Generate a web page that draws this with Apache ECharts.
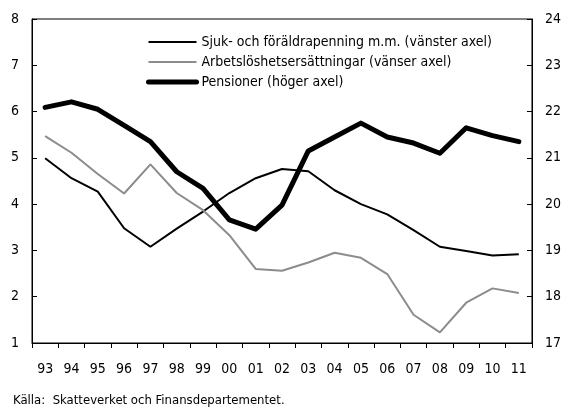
<!DOCTYPE html>
<html>
<head>
<meta charset="utf-8">
<script src="https://cdn.jsdelivr.net/npm/echarts@6/dist/echarts.min.js"></script>
<style>
  html, body { margin: 0; padding: 0; background: #fff; }
  #chart { width: 564px; height: 407px; }
</style>
</head>
<body>
<div id="chart"></div>
<script>
// data
const years = ['93','94','95','96','97','98','99','00','01','02','03','04','05','06','07','08','09','10','11'];
const sjuk = [4.99, 4.56, 4.27, 3.48, 3.08, 3.47, 3.84, 4.24, 4.56, 4.76, 4.71, 4.3, 4.0, 3.78, 3.44, 3.08, 2.99, 2.89, 2.92];
const arbets = [5.47, 5.11, 4.65, 4.23, 4.86, 4.24, 3.87, 3.33, 2.6, 2.56, 2.74, 2.95, 2.84, 2.49, 1.61, 1.23, 1.87, 2.18, 2.08];
const pension = [22.09, 22.21, 22.05, 21.7, 21.35, 20.7, 20.34, 19.66, 19.46, 19.98, 21.15, 21.45, 21.75, 21.45, 21.32, 21.1, 21.65, 21.48, 21.35];
const seriesNames = ['Sjuk- och föräldrapenning m.m. (vänster axel)', 'Arbetslöshetsersättningar (vänser axel)', 'Pensioner (höger axel)'];

const font = '"Liberation Sans Narrow", "DejaVu Sans Condensed", "DejaVu Sans", sans-serif';

const chart = echarts.init(document.getElementById('chart'));
chart.setOption({
    animation: false,
    textStyle: { fontFamily: font },
    grid: { left: 32, right: 27, top: 19, bottom: 64, show: true, borderColor: '#000', borderWidth: 1 },
    legend: {
        orient: 'vertical', left: 146, top: 35, padding: 0,
        itemWidth: 48, itemHeight: 14, itemGap: 6,
        itemStyle: { opacity: 0 },
        lineStyle: { width: 'inherit' },
        textStyle: { fontFamily: font, fontSize: 14, color: '#000' },
        data: seriesNames
    },
    graphic: [{
        type: 'text', left: 13, top: 394,
        style: { text: 'Källa:  Skatteverket och Finansdepartementet.', font: '13px ' + font, fill: '#000' }
    }],
    xAxis: {
        type: 'category', data: years, boundaryGap: true,
        axisLine: { lineStyle: { color: '#000', width: 1 } },
        axisTick: { show: true, length: 5, alignWithLabel: false, lineStyle: { color: '#000' } },
        axisLabel: { color: '#000', fontSize: 14, margin: 19, fontFamily: font }
    },
    yAxis: [{
        type: 'value', min: 1, max: 8, interval: 1, position: 'left',
        axisLine: { show: true, lineStyle: { color: '#000', width: 1 } },
        axisTick: { show: true, inside: true, length: 5, lineStyle: { color: '#000' } },
        splitLine: { show: false },
        axisLabel: { color: '#000', fontSize: 14, margin: 13, fontFamily: font }
    }, {
        type: 'value', min: 17, max: 24, interval: 1, position: 'right',
        axisLine: { show: true, lineStyle: { color: '#000', width: 1 } },
        axisTick: { show: true, inside: true, length: 5, lineStyle: { color: '#000' } },
        splitLine: { show: false },
        axisLabel: { color: '#000', fontSize: 14, margin: 13, fontFamily: font }
    }],
    series: [
        { name: seriesNames[0], type: 'line', yAxisIndex: 0, data: sjuk, symbol: 'none',
          lineStyle: { color: '#000', width: 2 }, itemStyle: { color: '#000' } },
        { name: seriesNames[1], type: 'line', yAxisIndex: 0, data: arbets, symbol: 'none',
          lineStyle: { color: '#8c8c8c', width: 2 }, itemStyle: { color: '#8c8c8c' } },
        { name: seriesNames[2], type: 'line', yAxisIndex: 1, data: pension, symbol: 'none',
          lineStyle: { color: '#000', width: 5, cap: 'round', join: 'round' }, itemStyle: { color: '#000' } }
    ]
});
</script>
</body>
</html>
